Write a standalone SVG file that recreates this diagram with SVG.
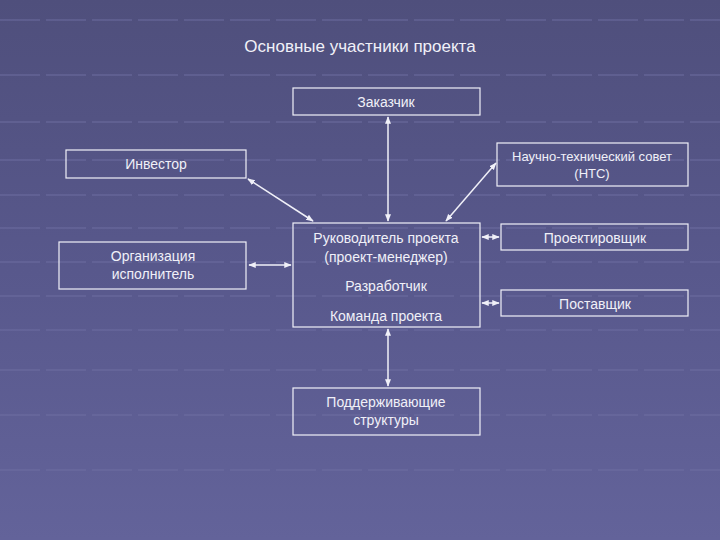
<svg xmlns="http://www.w3.org/2000/svg" width="720" height="540" viewBox="0 0 720 540">
<defs>
<linearGradient id="bg" x1="0" y1="0" x2="0" y2="1">
<stop offset="0" stop-color="#4f4f7c"/><stop offset="0.5" stop-color="#58588c"/><stop offset="1" stop-color="#63639a"/>
</linearGradient>
<marker id="ah" viewBox="0 0 10 10" refX="9" refY="5" markerWidth="5" markerHeight="5" orient="auto-start-reverse"><path d="M0,1 L10,5 L0,9 Z" fill="#f0f0f8"/></marker>
<style>
.b{fill:none;stroke:#f0f0f8;stroke-width:1.2}
.t{font-family:"Liberation Sans",Arial,sans-serif;font-size:14px;fill:#f0f0f8;text-anchor:middle}
.c{stroke:#f0f0f8;stroke-width:1.5;fill:none;marker-start:url(#ah);marker-end:url(#ah)}
.g{stroke:#7070a4;stroke-width:2;stroke-dasharray:40 6;opacity:0.45}
</style>
</defs>
<rect width="720" height="540" fill="url(#bg)"/>
<g id="grid">
<line class="g" x1="0" y1="20" x2="720" y2="20"/><line class="g" x1="0" y1="75" x2="720" y2="75"/>
<line class="g" x1="0" y1="122" x2="720" y2="122"/><line class="g" x1="0" y1="160" x2="720" y2="160"/>
<line class="g" x1="0" y1="195" x2="720" y2="195"/><line class="g" x1="0" y1="228" x2="720" y2="228"/>
<line class="g" x1="0" y1="262" x2="720" y2="262"/><line class="g" x1="0" y1="296" x2="720" y2="296"/>
<line class="g" x1="0" y1="330" x2="720" y2="330"/><line class="g" x1="0" y1="370" x2="720" y2="370"/>
<line class="g" x1="0" y1="415" x2="720" y2="415"/><line class="g" x1="0" y1="470" x2="720" y2="470"/>
</g>
<text x="360" y="52" class="t" style="font-size:17px">Основные участники проекта</text>
<g id="zakazchik"><rect class="b" x="293" y="88" width="187" height="27"/><text class="t" x="386" y="107">Заказчик</text></g>
<g id="investor"><rect class="b" x="66" y="150" width="180" height="28"/><text class="t" x="156" y="169">Инвестор</text></g>
<g id="nts"><rect class="b" x="497" y="143" width="191" height="43"/><text class="t" x="592" y="161" style="font-size:13px">Научно-технический совет</text><text class="t" x="592" y="178" style="font-size:13px">(НТС)</text></g>
<g id="center"><rect class="b" x="293" y="223" width="187" height="104"/>
<text class="t" x="386" y="243">Руководитель проекта</text><text class="t" x="386" y="262">(проект-менеджер)</text>
<text class="t" x="386" y="291">Разработчик</text><text class="t" x="386" y="321">Команда проекта</text></g>
<g id="org"><rect class="b" x="59" y="242" width="187" height="47"/><text class="t" x="153" y="261">Организация</text><text class="t" x="153" y="279">исполнитель</text></g>
<g id="proekt"><rect class="b" x="501" y="224" width="187" height="26"/><text class="t" x="595" y="243">Проектировщик</text></g>
<g id="postav"><rect class="b" x="501" y="290" width="187" height="26"/><text class="t" x="595" y="309">Поставщик</text></g>
<g id="podd"><rect class="b" x="293" y="388" width="187" height="47"/><text class="t" x="386" y="407">Поддерживающие</text><text class="t" x="386" y="425">структуры</text></g>
<g id="connectors">
<line class="c" x1="388" y1="117" x2="388" y2="221"/>
<line class="c" x1="248" y1="179" x2="313" y2="221"/>
<line class="c" x1="496" y1="163" x2="446" y2="221"/>
<line class="c" x1="249" y1="265" x2="291" y2="265"/>
<line class="c" x1="482" y1="237" x2="499" y2="237"/>
<line class="c" x1="482" y1="303" x2="499" y2="303"/>
<line class="c" x1="388" y1="329" x2="388" y2="386"/>
</g>
</svg>
